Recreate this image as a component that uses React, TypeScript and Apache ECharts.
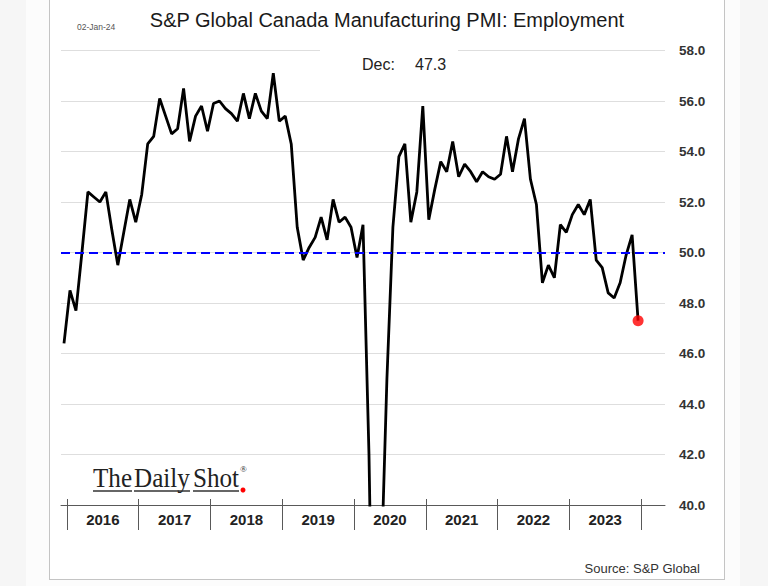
import React, { useEffect, useRef } from "react";
import * as echarts from "echarts";

// Monthly values, Dec 2015 .. Dec 2023
const valuesDec2015 = [46.4];
const values2016 = [48.5, 47.7, 50.0, 52.4, 52.2, 52.0, 52.4, 50.9, 49.5, 50.8, 52.1, 51.2];
const values2017 = [52.3, 54.3, 54.6, 56.1, 55.4, 54.7, 54.9, 56.5, 54.4, 55.4, 55.8, 54.8];
const values2018 = [55.9, 56.0, 55.7, 55.5, 55.2, 56.3, 55.3, 56.3, 55.6, 55.3, 57.1, 55.2];
const values2019 = [55.4, 54.3, 51.0, 49.7, 50.2, 50.6, 51.4, 50.5, 52.1, 51.2, 51.4, 51.0];
const values2020 = [49.8, 51.1, 42.0, 28.0, 37.0, 45.0, 51.0, 53.8, 54.3, 51.2, 52.4, 55.8];
const values2021 = [51.3, 52.5, 53.6, 53.2, 54.4, 53.0, 53.5, 53.2, 52.8, 53.2, 53.0, 52.9];
const values2022 = [53.1, 54.6, 53.2, 54.5, 55.3, 52.9, 51.9, 48.8, 49.5, 49.0, 51.1, 50.8];
const values2023 = [51.5, 51.9, 51.5, 52.1, 49.7, 49.4, 48.4, 48.2, 48.8, 49.9, 50.7, 47.3];

const yearLabels = ["2016", "2017", "2018", "2019", "2020", "2021", "2022", "2023"];
const yTicks = [40, 42, 44, 46, 48, 50, 52, 54, 56, 58];
const thresholdLevel = 50;
const titleText = "S&P Global Canada Manufacturing PMI: Employment";
const dateText = "02-Jan-24";
const latestLabel = "Dec:";
const sourceText = "Source: S&P Global";
const logoWords = ["The", "Daily", "Shot"];

export default function App() {
  const ref = useRef<HTMLDivElement>(null);

  useEffect(() => {
    if (!ref.current) return;
    const chart = echarts.init(ref.current, undefined, { renderer: "svg" });

    const allValues = [
      ...valuesDec2015,
      ...values2016,
      ...values2017,
      ...values2018,
      ...values2019,
      ...values2020,
      ...values2021,
      ...values2022,
      ...values2023,
    ];
    // month index: Jan 2016 = 0, Dec 2015 = -1
    const lineData = allValues.map((v, i) => [i - 1, v]);
    const last = lineData[lineData.length - 1];

    const tickValues = yearLabels.map((_, k) => 12 * k - 0.5).concat([12 * yearLabels.length - 0.5]);
    const labelValues = yearLabels.map((_, k) => 12 * k + 5.5);

    const logoX = [93, 134, 193];
    const logoEnds = [132, 190, 239];
    const logoElems: any[] = [];
    logoWords.forEach((w, i) => {
      logoElems.push({
        type: "text",
        z: 11,
        x: logoX[i],
        y: 478,
        scaleX: 0.93,
        style: {
          text: w,
          x: 0,
          y: 0,
          align: "left",
          verticalAlign: "middle",
          fontSize: 27,
          fontFamily: "Liberation Serif",
          fill: "#222",
        },
      });
      logoElems.push({
        type: "line",
        z: 11,
        shape: { x1: logoX[i], y1: 491, x2: logoEnds[i], y2: 491 },
        style: { stroke: "#333", lineWidth: 1.3 },
      });
    });

    const option: any = {
      animation: false,
      grid: { left: 61, right: 103, top: 50.5, bottom: 81, containLabel: false },
      xAxis: [
        {
          type: "value",
          min: -1.5,
          max: 99.5,
          position: "bottom",
          splitLine: { show: false },
          axisLine: { show: true, onZero: false, lineStyle: { color: "#595959", width: 1 } },
          axisTick: {
            show: true,
            customValues: tickValues,
            length: 25,
            lineStyle: { color: "#595959", width: 1 },
          },
          axisLabel: {
            show: true,
            customValues: labelValues,
            formatter: (v: number) => yearLabels[Math.round((v - 5.5) / 12)] ?? "",
            fontSize: 15,
            fontWeight: "bold",
            color: "#222",
            margin: 7,
            fontFamily: "Liberation Sans",
          },
        },
        {
          type: "value",
          min: -1.5,
          max: 99.5,
          position: "bottom",
          splitLine: { show: false },
          axisLine: { show: false, onZero: false },
          axisTick: {
            show: true,
            inside: true,
            customValues: tickValues,
            length: 6,
            lineStyle: { color: "#595959", width: 1 },
          },
          axisLabel: { show: false },
        },
      ],
      yAxis: {
        type: "value",
        position: "right",
        min: yTicks[0],
        max: yTicks[yTicks.length - 1],
        interval: 2,
        axisLine: { show: false },
        axisTick: { show: false },
        splitLine: { show: true, lineStyle: { color: "#dedede", width: 1 } },
        axisLabel: {
          formatter: (v: number) => v.toFixed(1),
          fontSize: 13.5,
          fontWeight: "bold",
          color: "#333",
          margin: 14,
          fontFamily: "Liberation Sans",
        },
      },
      series: [
        {
          type: "line",
          data: lineData,
          showSymbol: false,
          symbol: "none",
          clip: true,
          lineStyle: { color: "#000000", width: 2.8 },
          z: 3,
          markLine: {
            silent: true,
            symbol: ["none", "none"],
            label: { show: false },
            lineStyle: { color: "#0000ff", type: [9, 5], width: 2 },
            data: [{ yAxis: thresholdLevel }],
          },
        },
        {
          type: "scatter",
          data: [last],
          symbol: "circle",
          symbolSize: 11,
          itemStyle: { color: "#ff0000" },
          z: 5,
        },
      ],
      graphic: [
        {
          type: "text",
          z: 10,
          style: {
            text: titleText,
            x: 387,
            y: 20,
            align: "center",
            verticalAlign: "middle",
            fontSize: 20,
            fontFamily: "Liberation Sans",
            fill: "#1a1a1a",
          },
        },
        {
          type: "text",
          z: 10,
          style: {
            text: dateText,
            x: 77,
            y: 27,
            align: "left",
            verticalAlign: "middle",
            fontSize: 8.5,
            fontFamily: "Liberation Sans",
            fill: "#555",
          },
        },
        {
          type: "rect",
          z: 10,
          shape: { x: 320, y: 40, width: 138, height: 46 },
          style: { fill: "#ffffff" },
        },
        {
          type: "text",
          z: 11,
          style: {
            text: latestLabel,
            x: 362,
            y: 64,
            align: "left",
            verticalAlign: "middle",
            fontSize: 16,
            fontFamily: "Liberation Sans",
            fill: "#222",
          },
        },
        {
          type: "text",
          z: 11,
          style: {
            text: String(last[1]),
            x: 415,
            y: 64,
            align: "left",
            verticalAlign: "middle",
            fontSize: 16,
            fontFamily: "Liberation Sans",
            fill: "#222",
          },
        },
        ...logoElems,
        {
          type: "text",
          z: 11,
          style: {
            text: "®",
            x: 240,
            y: 469,
            align: "left",
            verticalAlign: "middle",
            fontSize: 9,
            fontFamily: "Liberation Serif",
            fill: "#222",
          },
        },
        {
          type: "circle",
          z: 12,
          shape: { cx: 243, cy: 490, r: 2.5 },
          style: { fill: "#ff0000" },
        },
        {
          type: "text",
          z: 11,
          style: {
            text: sourceText,
            x: 700,
            y: 568,
            align: "right",
            verticalAlign: "middle",
            fontSize: 13,
            fontFamily: "Liberation Sans",
            fill: "#333",
          },
        },
      ],
    };

    chart.setOption(option);
    return () => chart.dispose();
  }, []);

  return (
    <div style={{ position: "fixed", left: 0, top: 0, width: 768, height: 586, background: "#f6f6f6", overflow: "hidden" }}>
      <div style={{ position: "absolute", left: 26, top: 0, width: 714, height: 586, background: "#fcfcfc" }} />
      <div
        style={{
          position: "absolute",
          left: 49,
          top: -1,
          width: 674,
          height: 579,
          background: "#ffffff",
          border: "1px solid #c4c4c4",
        }}
      />
      <div ref={ref} style={{ position: "absolute", left: 0, top: 0, width: 768, height: 586 }} />
    </div>
  );
}
